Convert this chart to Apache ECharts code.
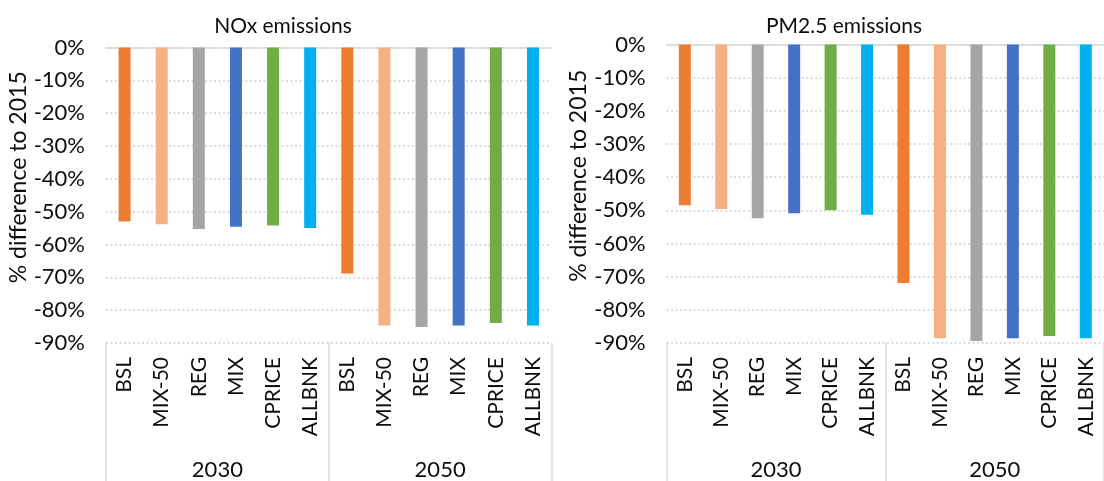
<!DOCTYPE html>
<html>
<head>
<meta charset="utf-8">
<script src="https://cdn.jsdelivr.net/npm/echarts@6/dist/echarts.min.js"></script>
<style>
  html, body { margin: 0; padding: 0; background: #ffffff; }
  #chart { width: 1104px; height: 481px; }
</style>
</head>
<body>
<div id="chart"></div>
<script>
// Scenarios and years shown along the category axes
const scenarios = ['BSL', 'MIX-50', 'REG', 'MIX', 'CPRICE', 'ALLBNK'];
const years = ['2030', '2050'];

// Change in emissions relative to 2015 (%), 2030 block then 2050 block
const noxValues = [-53.0, -53.8, -55.3, -54.6, -54.2, -55.0, -68.8, -84.7, -85.1, -84.7, -83.9, -84.7];
const pm25Values = [-48.5, -49.6, -52.4, -50.9, -50.0, -51.3, -71.9, -88.6, -89.4, -88.6, -87.9, -88.6];

// Value axis range and step
const yMin = -90;
const yMax = 0;
const yStep = 10;

const panelTitles = ['NOx emissions', 'PM2.5 emissions'];
const yAxisTitle = '% difference to 2015';

// One colour per scenario
const scenarioColors = ['#ED7D31', '#F4B183', '#A5A5A5', '#4472C4', '#70AD47', '#00B0F0'];

const FONT = 'Lato, "Open Sans", sans-serif';
const TEXT = '#0d0d0d';
const LIGHT = '#d9d9d9';

const categories = [];
years.forEach(() => scenarios.forEach(s => categories.push(s)));

const grids = [
  { left: 106, top: 47.5, width: 445.5, height: 300.5 },
  { left: 666.6, top: 44.5, width: 446.8, height: 303.8 }
];
const titleCenters = [278, 839];

function barData(values) {
  return values.map((v, i) => ({
    value: v,
    itemStyle: { color: scenarioColors[i % scenarios.length] }
  }));
}

const xAxes = [];
const yAxes = [];
const series = [];
const titles = [];

grids.forEach((g, k) => {
  // zero line along the top of the plot
  xAxes.push({
    gridIndex: k, type: 'category', position: 'top', data: categories,
    axisLine: { show: true, lineStyle: { color: LIGHT, width: 1.5 } },
    axisTick: { show: false }, axisLabel: { show: false }, splitLine: { show: false }
  });
  // scenario labels under the plot
  xAxes.push({
    gridIndex: k, type: 'category', position: 'bottom', data: categories,
    axisLine: { show: false, onZero: false },
    axisTick: { show: false },
    axisLabel: {
      interval: 0, rotate: 90, margin: 14,
      fontFamily: FONT, fontSize: 21, color: TEXT
    }
  });
  // year groups with long separators
  xAxes.push({
    gridIndex: k, type: 'category', position: 'bottom', data: years,
    axisLine: { show: false, onZero: false },
    axisTick: { show: true, interval: 0, length: 140, lineStyle: { color: LIGHT, width: 1.5 } },
    axisLabel: { interval: 0, margin: 116, fontFamily: FONT, fontSize: 22, color: TEXT }
  });
  yAxes.push({
    gridIndex: k, type: 'value', min: yMin, max: yMax, interval: yStep,
    name: yAxisTitle, nameLocation: 'middle', nameGap: 73,
    nameTextStyle: { fontFamily: FONT, fontSize: 23, color: TEXT, padding: [0, 0, 0, 36] },
    axisLine: { show: false }, axisTick: { show: false },
    axisLabel: { formatter: '{value}%', margin: 21, fontFamily: FONT, fontSize: 22, color: TEXT },
    splitLine: { show: true, lineStyle: { color: '#d0d0d0', width: 1.5, type: [2, 2.5] } }
  });
  series.push({
    type: 'bar', xAxisIndex: k * 3 + 1, yAxisIndex: k,
    data: barData(k === 0 ? noxValues : pm25Values),
    barWidth: 12, animation: false
  });
  titles.push({
    text: panelTitles[k],
    left: titleCenters[k], top: 11,
    textAlign: 'center',
    textStyle: { fontFamily: FONT, fontSize: 21, fontWeight: 'normal', color: TEXT }
  });
});

const chart = echarts.init(document.getElementById('chart'), null, { renderer: 'canvas' });
chart.setOption({
  backgroundColor: '#ffffff',
  animation: false,
  title: titles,
  grid: grids,
  xAxis: xAxes,
  yAxis: yAxes,
  series: series
});
</script>
</body>
</html>
